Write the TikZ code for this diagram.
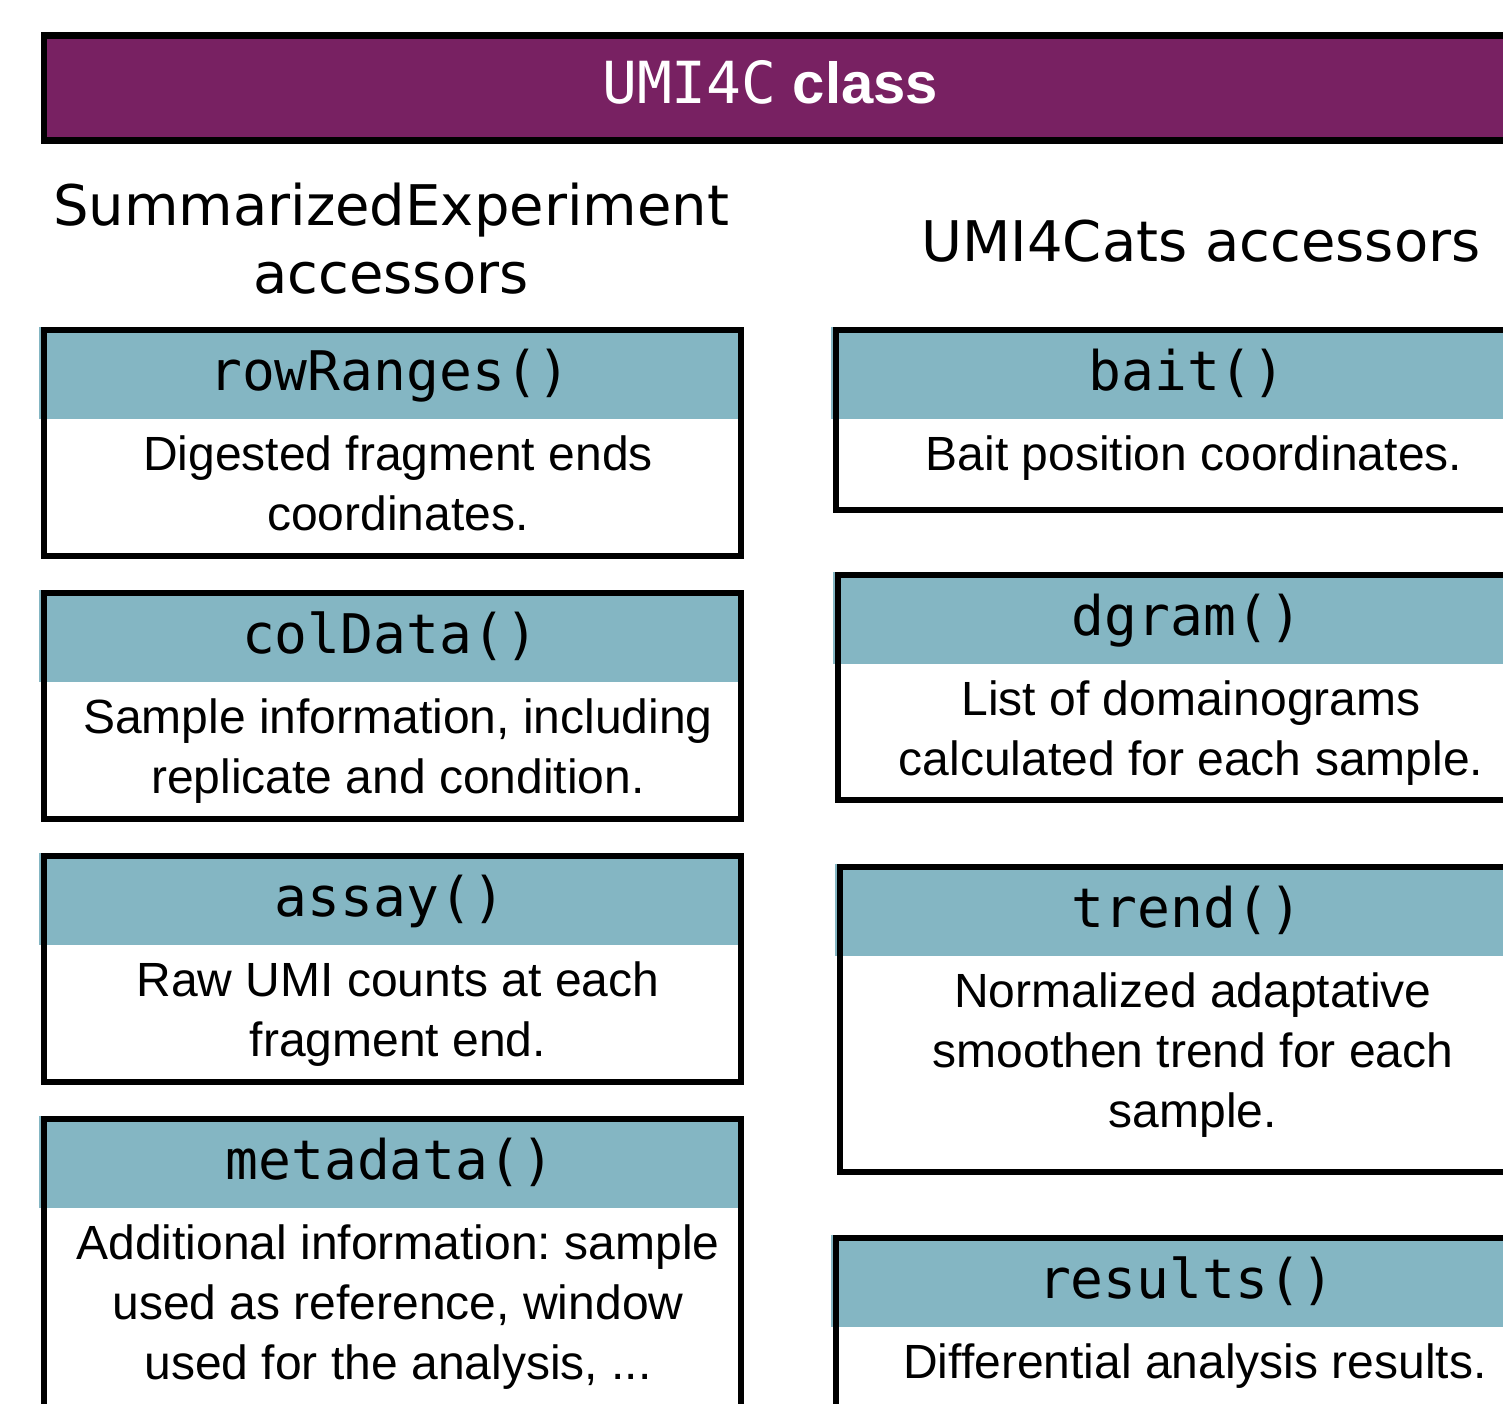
\documentclass[tikz,border=0pt]{standalone}
\usepackage{fontspec}
\setmainfont{Liberation Sans}
\newfontfamily\monof{DejaVu Sans Mono}
\newfontfamily\dvsans{DejaVu Sans}
\definecolor{umipurple}{RGB}{120,33,98}
\definecolor{umiteal}{RGB}{132,182,195}
\frenchspacing
\tikzset{
  boxborder/.style={draw=black, line width=3pt},
  headfill/.style={fill=umiteal},
  headtxt/.style={font=\monof\fontsize{27.3}{34}\selectfont, anchor=base, inner sep=0pt},
  desctxt/.style={font=\fontsize{24}{30}\selectfont, align=center, anchor=north, inner sep=0pt},
  sectxt/.style={font=\dvsans\fontsize{28}{34}\selectfont, align=center, inner sep=0pt},
}
\newcommand{\umibox}[9]{%
  \fill[headfill] ({#2-5},{#4-3.5}) rectangle ({#3-3},{#4+89});
  \draw[boxborder] (#2,#4) rectangle (#3,#5);
  \node[headtxt] (#1h) at (#7,{#4+60}) {#6};
  \node[desctxt] (#1d) at (#8,{#4+140-42}) {\strut #9};
}
\begin{document}
\begin{tikzpicture}[x=0.5pt, y=-0.5pt]
\useasboundingbox (0,0) rectangle (1503,1403);
\begin{scope}
\clip (0,0) rectangle (1503,1403);
% title bar
\fill[umipurple] (44,35.5) rectangle (1560,140.5);
\draw[black, line width=3.3pt] (44,35.5) rectangle (1560,140.5);
\node[anchor=base, inner sep=0pt, text=white, font=\fontsize{29}{34}\selectfont] (title) at (770,103) {{\monof UMI4C} {\bfseries class}};
% section titles
\node[sectxt, anchor=north] (secleft) at (391,{225-47.6}) {\strut SummarizedExperiment\\accessors};
\node[sectxt, anchor=base] (secright) at (1201,261) {UMI4Cats accessors};
% left column
\umibox{rr}{44}{741}{330}{556}{rowRanges()}{390}{398}{Digested fragment ends\\coordinates.}
\umibox{cd}{44}{741}{593}{819}{colData()}{390}{398}{Sample information, including\\replicate and condition.}
\umibox{as}{44}{741}{856}{1082}{assay()}{390}{398}{Raw UMI counts at each\\fragment end.}
\umibox{md}{44}{741}{1119}{1450}{metadata()}{390}{398}{Additional information: sample\\used as reference, window\\used for the analysis, ...}
% right column
\umibox{bt}{836}{1560}{330}{510}{bait()}{1187}{1194}{Bait position coordinates.}
\umibox{dg}{838}{1560}{575}{800}{dgram()}{1187}{1191}{List of domainograms\\calculated for each sample.}
\umibox{tr}{840}{1560}{867}{1172}{trend()}{1187}{1193}{Normalized adaptative\\smoothen trend for each\\sample.}
\umibox{rs}{836}{1560}{1238}{1450}{results()}{1186}{1195}{Differential analysis results.}
\end{scope}
\end{tikzpicture}
\end{document}
